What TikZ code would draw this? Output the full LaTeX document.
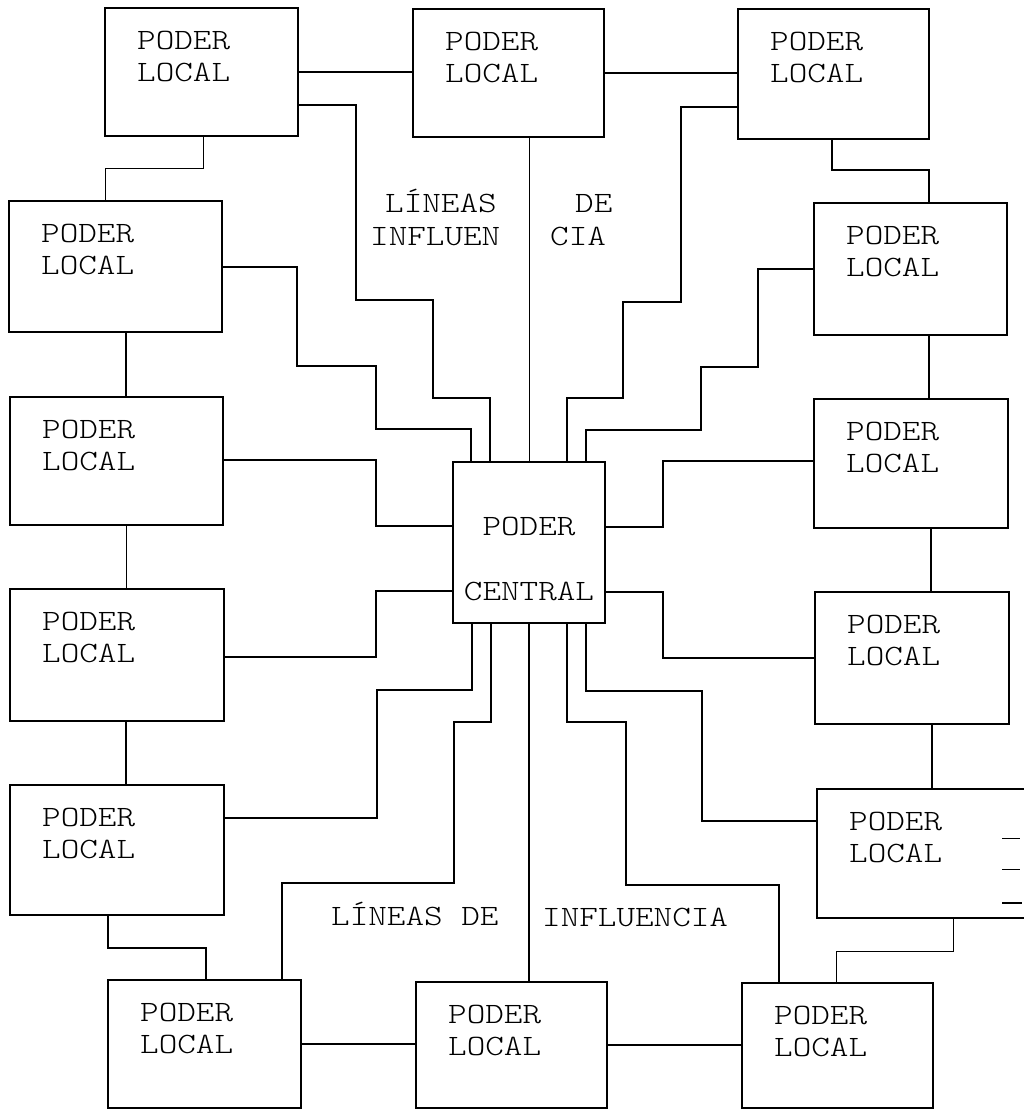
\documentclass[tikz,border=0pt]{standalone}
\usepackage{fontspec}
\newfontfamily\boxfont{lmmonolt10-regular.otf}[FakeStretch=1.2]

\begin{document}
\begin{tikzpicture}[
  x=1pt, y=-1pt,
  localbox/.style={rectangle, draw, line width=2pt, outer sep=0pt,
    inner sep=0pt, anchor=north west},
  boxtext/.style={inner sep=0pt, align=left, anchor=north west,
    font=\boxfont\fontsize{29.5}{32}\selectfont},
  linetext/.style={inner sep=0pt, anchor=base west,
    font=\boxfont\fontsize{29.5}{32}\selectfont},
  link/.style={line width=1.6pt},
  thinlink/.style={line width=1pt}
]
\useasboundingbox (0,0) rectangle (1024,1111);
\clip (0,0) rectangle (1024,1111);

\node (tl)  [localbox, minimum width=193pt, minimum height=128pt] at (105,8)   {};
\node (tm)  [localbox, minimum width=191pt, minimum height=128pt] at (413,9)   {};
\node (tr)  [localbox, minimum width=191pt, minimum height=130pt] at (738,9)   {};
\node (l1)  [localbox, minimum width=213pt, minimum height=131pt] at (9,201)   {};
\node (l2)  [localbox, minimum width=213pt, minimum height=128pt] at (10,397)  {};
\node (l3)  [localbox, minimum width=214pt, minimum height=132pt] at (10,589)  {};
\node (l4)  [localbox, minimum width=214pt, minimum height=130pt] at (10,785)  {};
\node (r1)  [localbox, minimum width=193pt, minimum height=132pt] at (814,203) {};
\node (r2)  [localbox, minimum width=194pt, minimum height=129pt] at (814,399) {};
\node (r3)  [localbox, minimum width=194pt, minimum height=132pt] at (815,592) {};
\node (r4)  [localbox, minimum width=230pt, minimum height=129pt] at (817,789) {};
\node (b1)  [localbox, minimum width=193pt, minimum height=128pt] at (108,980) {};
\node (b2)  [localbox, minimum width=191pt, minimum height=126pt] at (416,982) {};
\node (b3)  [localbox, minimum width=191pt, minimum height=125pt] at (742,983) {};
\node (ctr) [localbox, minimum width=152pt, minimum height=161pt] at (453,462) {};

\foreach \b in {tl,tm,tr,l1,l2,l3,l4,r1,r2,r3,r4,b1,b2,b3}
  \node (\b-txt) [boxtext] at ([xshift=32pt, yshift=-23pt]\b.north west) {PODER\\LOCAL};
\node (ctr-txt) [boxtext, align=center, anchor=north]
  at ([yshift=-55pt]ctr.north) {PODER\\[33pt]CENTRAL};

\node (lin-a) [linetext] at (385,212) {LÍNEAS};
\node (lin-b) [linetext] at (370,245) {INFLUEN};
\node (lin-c) [linetext] at (575,212) {DE};
\node (lin-d) [linetext] at (550,245) {CIA};
\node (lin-e) [linetext] at (331,925) {LÍNEAS DE};
\node (lin-f) [linetext] at (542,926) {INFLUENCIA};

\draw[link] (tl.east) -- (tl.east -| tm.west);
\draw[link] (tm.east) -- (tm.east -| tr.west);
\draw[link] (b1.east) -- (b1.east -| b2.west);
\draw[link] (b2.east) -- (b2.east -| b3.west);

\draw[thinlink] (tl.south -| 203,0) |- (105,168) -- (l1.north -| 105,0);
\draw[link] (tr.south -| 832,0) |- (929,170) -- (r1.north -| 929,0);
\draw[link] (l1.south -| 126,0) -- (l2.north -| 126,0);
\draw[thinlink] (l2.south -| 126,0) -- (l3.north -| 126,0);
\draw[link] (l3.south -| 126,0) -- (l4.north -| 126,0);
\draw[link] (r1.south -| 929,0) -- (r2.north -| 929,0);
\draw[link] (r2.south -| 931,0) -- (r3.north -| 931,0);
\draw[link] (r3.south -| 932,0) -- (r4.north -| 932,0);
\draw[link] (l4.south -| 108,0) |- (206,948) -- (b1.north -| 206,0);
\draw[thinlink] (r4.south -| 953,0) |- (836,951) -- (b3.north -| 836,0);

\draw[thinlink] (tm.south -| 529,0) -- (ctr.north -| 529,0);
\draw[link] (ctr.south -| 529,0) -- (b2.north -| 529,0);
\draw[link] (tl.east |- 0,105) -| (356,300) -| (433,398) -| (ctr.north -| 490,0);
\draw[link] (tr.west |- 0,107) -| (681,302) -| (623,398) -| (ctr.north -| 567,0);
\draw[link] (l1.east |- 0,267) -| (297,366) -| (376,429) -| (ctr.north -| 471,0);
\draw[link] (r1.west |- 0,269) -| (758,367) -| (701,430) -| (ctr.north -| 586,0);
\draw[link] (l2.east |- 0,460) -| (376,526) -- (ctr.west |- 0,526);
\draw[link] (l3.east |- 0,657) -| (376,591) -- (ctr.west |- 0,591);
\draw[link] (r2.west |- 0,461) -| (663,527) -- (ctr.east |- 0,527);
\draw[link] (r3.west |- 0,658) -| (663,592) -- (ctr.east |- 0,592);
\draw[link] (l4.east |- 0,818) -| (377,690) -| (ctr.south -| 472,0);
\draw[link] (r4.west |- 0,821) -| (702,691) -| (ctr.south -| 586,0);
\draw[link] (b1.north -| 282,0) |- (454,883) |- (491,722) -- (ctr.south -| 491,0);
\draw[link] (b3.north -| 779,0) |- (626,885) |- (567,722) -- (ctr.south -| 567,0);

\draw[thinlink] (1002,838) -- (1020,838);
\draw[thinlink] (1002,869) -- (1020,869);
\draw[link] (1002,903) -- (1022,903);

\end{tikzpicture}
\end{document}
